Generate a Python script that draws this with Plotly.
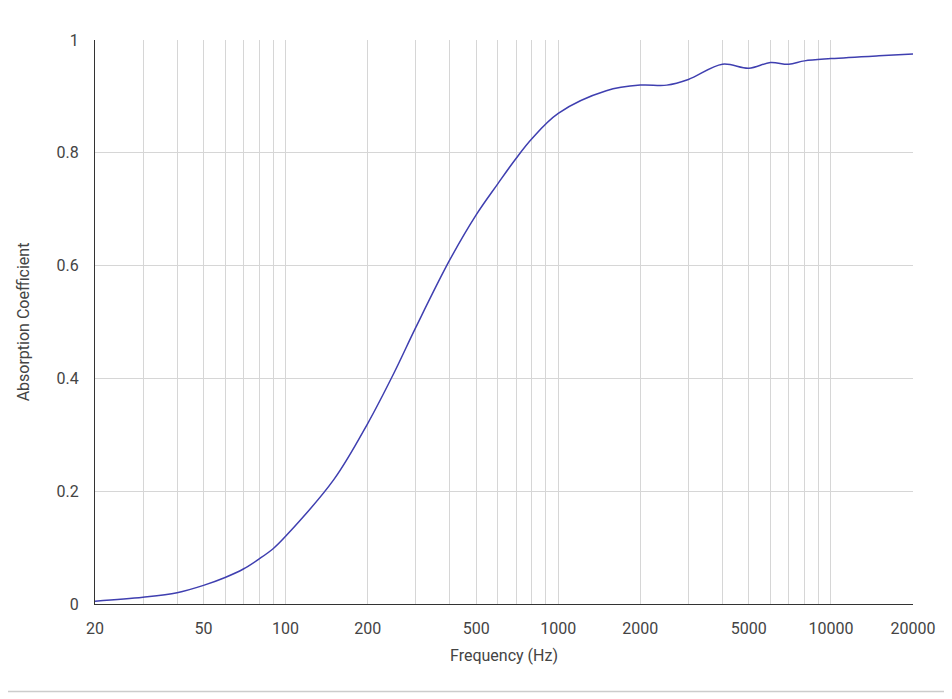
import plotly.graph_objects as go

freq = [20, 30, 40, 50, 60, 70, 80, 90, 100, 150, 200, 250, 300, 400, 500, 600, 700, 800, 1000,
        1500, 2000, 2500, 3000, 4000, 5000, 6000, 7000, 8000, 10000, 15000, 20000]
absorption = [0.005, 0.012, 0.02, 0.033, 0.047, 0.062, 0.08, 0.098, 0.12, 0.22, 0.32, 0.41, 0.49,
              0.61, 0.69, 0.745, 0.79, 0.825, 0.87, 0.91, 0.92, 0.92, 0.93, 0.957, 0.95, 0.96,
              0.957, 0.963, 0.967, 0.972, 0.975]

grid_vals = [20, 30, 40, 50, 60, 70, 80, 90, 100, 200, 300, 400, 500, 600, 700, 800, 900, 1000,
             2000, 3000, 4000, 5000, 6000, 7000, 8000, 9000, 10000, 20000]
label_vals = [20, 50, 100, 200, 500, 1000, 2000, 5000, 10000, 20000]
grid_text = [str(v) if v in label_vals else "" for v in grid_vals]

fig = go.Figure(go.Scatter(x=freq, y=absorption, mode="lines", line=dict(color="#3f3fb0", width=1.5, shape="spline")))
fig.update_layout(
    width=952, height=699, paper_bgcolor="white", plot_bgcolor="white",
    margin=dict(l=87, r=47, t=32, b=103), showlegend=False,
    font=dict(family="Roboto", size=16, color="#444"),
    xaxis=dict(type="log", range=[1.30103, 4.30103], tickvals=grid_vals, ticktext=grid_text,
               showgrid=True, gridcolor="#d6d6d6", showline=True, linecolor="#333", ticks="",
               ticklabelstandoff=10,
               title=dict(text="Frequency (Hz)", font=dict(size=16), standoff=12), zeroline=False),
    yaxis=dict(range=[0, 1], tickvals=[0, 0.2, 0.4, 0.6, 0.8, 1], ticktext=["0", "0.2", "0.4", "0.6", "0.8", "1"],
               showgrid=True, gridcolor="#d6d6d6", showline=True, linecolor="#333", zeroline=False,
               ticklabelstandoff=12,
               title=dict(text="Absorption Coefficient", font=dict(size=16), standoff=22)),
    shapes=[dict(type="line", xref="paper", yref="paper", x0=-0.2, x1=1.1, y0=-0.155, y1=-0.155,
                 line=dict(color="#cccccc", width=1.5))],
)
fig.write_html("out.html")
